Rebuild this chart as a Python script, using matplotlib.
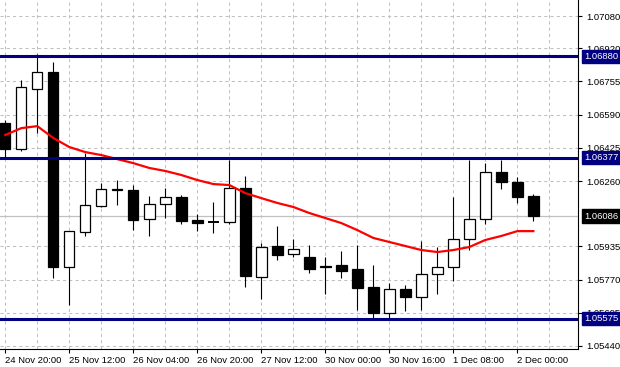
import matplotlib
matplotlib.use("Agg")
import matplotlib.pyplot as plt
from matplotlib.patches import Rectangle
from matplotlib.transforms import blended_transform_factory

# ---- data (EURUSD-like H4 candles) ----
opens  = [1.06548, 1.06419, 1.06717, 1.06802, 1.05833, 1.06006, 1.06136, 1.06220, 1.06215,
          1.06071, 1.06146, 1.06180, 1.06066, 1.06056, 1.06056, 1.06225, 1.05783, 1.05937,
          1.05897, 1.05882, 1.05840, 1.05843, 1.05823, 1.05733, 1.05604, 1.05723, 1.05683,
          1.05798, 1.05833, 1.05972, 1.06071, 1.06305, 1.06255, 1.06185]
highs  = [1.06563, 1.06762, 1.06890, 1.06851, 1.06011, 1.06399, 1.06250, 1.06265, 1.06240,
          1.06185, 1.06225, 1.06190, 1.06096, 1.06156, 1.06364, 1.06285, 1.05952, 1.06036,
          1.05972, 1.05942, 1.05882, 1.05912, 1.05942, 1.05843, 1.05753, 1.05743, 1.05962,
          1.05932, 1.06180, 1.06364, 1.06349, 1.06364, 1.06280, 1.06195]
lows   = [1.06379, 1.06409, 1.06499, 1.05778, 1.05644, 1.05987, 1.06131, 1.06141, 1.06016,
          1.05987, 1.06076, 1.06046, 1.06011, 1.06002, 1.06046, 1.05733, 1.05674, 1.05867,
          1.05882, 1.05803, 1.05698, 1.05778, 1.05619, 1.05575, 1.05577, 1.05614, 1.05619,
          1.05698, 1.05763, 1.05917, 1.06046, 1.06220, 1.06151, 1.06061]
closes = [1.06419, 1.06727, 1.06802, 1.05833, 1.06011, 1.06141, 1.06220, 1.06213, 1.06066,
          1.06146, 1.06180, 1.06061, 1.06051, 1.06056, 1.06225, 1.05788, 1.05932, 1.05892,
          1.05922, 1.05823, 1.05835, 1.05813, 1.05728, 1.05604, 1.05723, 1.05683, 1.05798,
          1.05833, 1.05972, 1.06071, 1.06305, 1.06255, 1.06180, 1.06086]
ma     = [1.06489, 1.06523, 1.06533, 1.06474, 1.06429, 1.06404, 1.06389, 1.06369, 1.06349,
          1.06325, 1.06310, 1.06290, 1.06265, 1.06245, 1.06240, 1.06200, 1.06175, 1.06151,
          1.06131, 1.06101, 1.06076, 1.06051, 1.06016, 1.05977, 1.05957, 1.05937, 1.05917,
          1.05907, 1.05917, 1.05932, 1.05967, 1.05987, 1.06011, 1.06011]

level_lines = [1.06880, 1.06377, 1.05575]
current_price = 1.06086

ytick_values = [1.07080, 1.06920, 1.06755, 1.06590, 1.06425, 1.06260,
                1.05935, 1.05770, 1.05605, 1.05440]
ytick_labels = ["1.07080", "1.06920", "1.06755", "1.06590", "1.06425", "1.06260",
                "1.05935", "1.05770", "1.05605", "1.05440"]

xtick_index = [0, 4, 8, 12, 16, 20, 24, 28, 32]
xtick_labels = ["24 Nov 20:00", "25 Nov 12:00", "26 Nov 04:00", "26 Nov 20:00",
                "27 Nov 12:00", "30 Nov 00:00", "30 Nov 16:00", "1 Dec 08:00", "2 Dec 00:00"]

# ---- styling ----
FONT = "Liberation Sans"
FS = 6.8
NAVY = "#000080"
GRID = "#c0c0c0"

fig = plt.figure(figsize=(6.2, 3.67), dpi=100)
fig.patch.set_facecolor("white")
ax = fig.add_axes([0, 1 - 349 / 367, 578 / 620, 349 / 367])
ax.set_facecolor("white")

ax.set_xlim(-0.33, 35.79)
ax.set_ylim(1.05425, 1.07160)

# grid
for gx in range(0, 36, 2):
    ax.axvline(gx, color=GRID, lw=0.75, ls=(0, (3, 3)), zorder=0)
for gy in ytick_values:
    ax.axhline(gy, color=GRID, lw=0.75, ls=(0, (3, 3)), zorder=0)

# current price line
ax.axhline(current_price, color=GRID, lw=0.9, zorder=0.5)

# candles
w = 0.65
for i, (o, h, l, c) in enumerate(zip(opens, highs, lows, closes)):
    bull = c >= o
    top = max(o, c)
    bot = min(o, c)
    ax.plot([i, i], [top, h], color="black", lw=0.8, zorder=2, solid_capstyle="butt")
    ax.plot([i, i], [l, bot], color="black", lw=0.8, zorder=2, solid_capstyle="butt")
    hgt = top - bot
    if hgt < 0.00004:
        ax.plot([i - w / 2, i + w / 2], [o, o], color="black", lw=1.4, zorder=3,
                solid_capstyle="butt")
    else:
        ax.add_patch(Rectangle((i - w / 2, bot), w, hgt,
                               facecolor="white" if bull else "black",
                               edgecolor="black", lw=0.9, zorder=3))

# moving average
ax.plot(range(len(ma)), ma, color="#ff0000", lw=1.6, zorder=4)

# level lines
for lv in level_lines:
    ax.axhline(lv, color=NAVY, lw=2.2, zorder=5)

# axes appearance
for s in ["left", "top"]:
    ax.spines[s].set_visible(False)
ax.spines["right"].set_color("black")
ax.spines["bottom"].set_color("black")
ax.spines["right"].set_linewidth(0.8)
ax.spines["bottom"].set_linewidth(0.8)

ax.yaxis.tick_right()
ax.set_yticks(ytick_values)
ax.set_yticklabels(ytick_labels, fontsize=FS, family=FONT)
ax.tick_params(axis="y", direction="out", length=3, width=0.8, pad=3)

ax.set_xticks(xtick_index)
ax.set_xticklabels(xtick_labels, fontsize=FS, family=FONT, ha="left")
ax.tick_params(axis="x", direction="out", length=3, width=0.8, pad=2)

# price labels on right axis
trans = blended_transform_factory(ax.transAxes, ax.transData)
for lv in level_lines:
    ax.annotate(f"{lv:.5f}", xy=(1, lv), xycoords=trans, xytext=(4.3, 0),
                textcoords="offset points", va="center", ha="left",
                fontsize=FS, family=FONT, color="white", zorder=10,
                annotation_clip=False,
                bbox=dict(boxstyle="square,pad=0.22", fc=NAVY, ec=NAVY))
ax.annotate(f"{current_price:.5f}", xy=(1, current_price), xycoords=trans,
            xytext=(4.3, 0), textcoords="offset points", va="center", ha="left",
            fontsize=FS, family=FONT, color="white", zorder=10,
            annotation_clip=False,
            bbox=dict(boxstyle="square,pad=0.22", fc="black", ec="black"))

fig.savefig("out.png", dpi=100, facecolor="white")
